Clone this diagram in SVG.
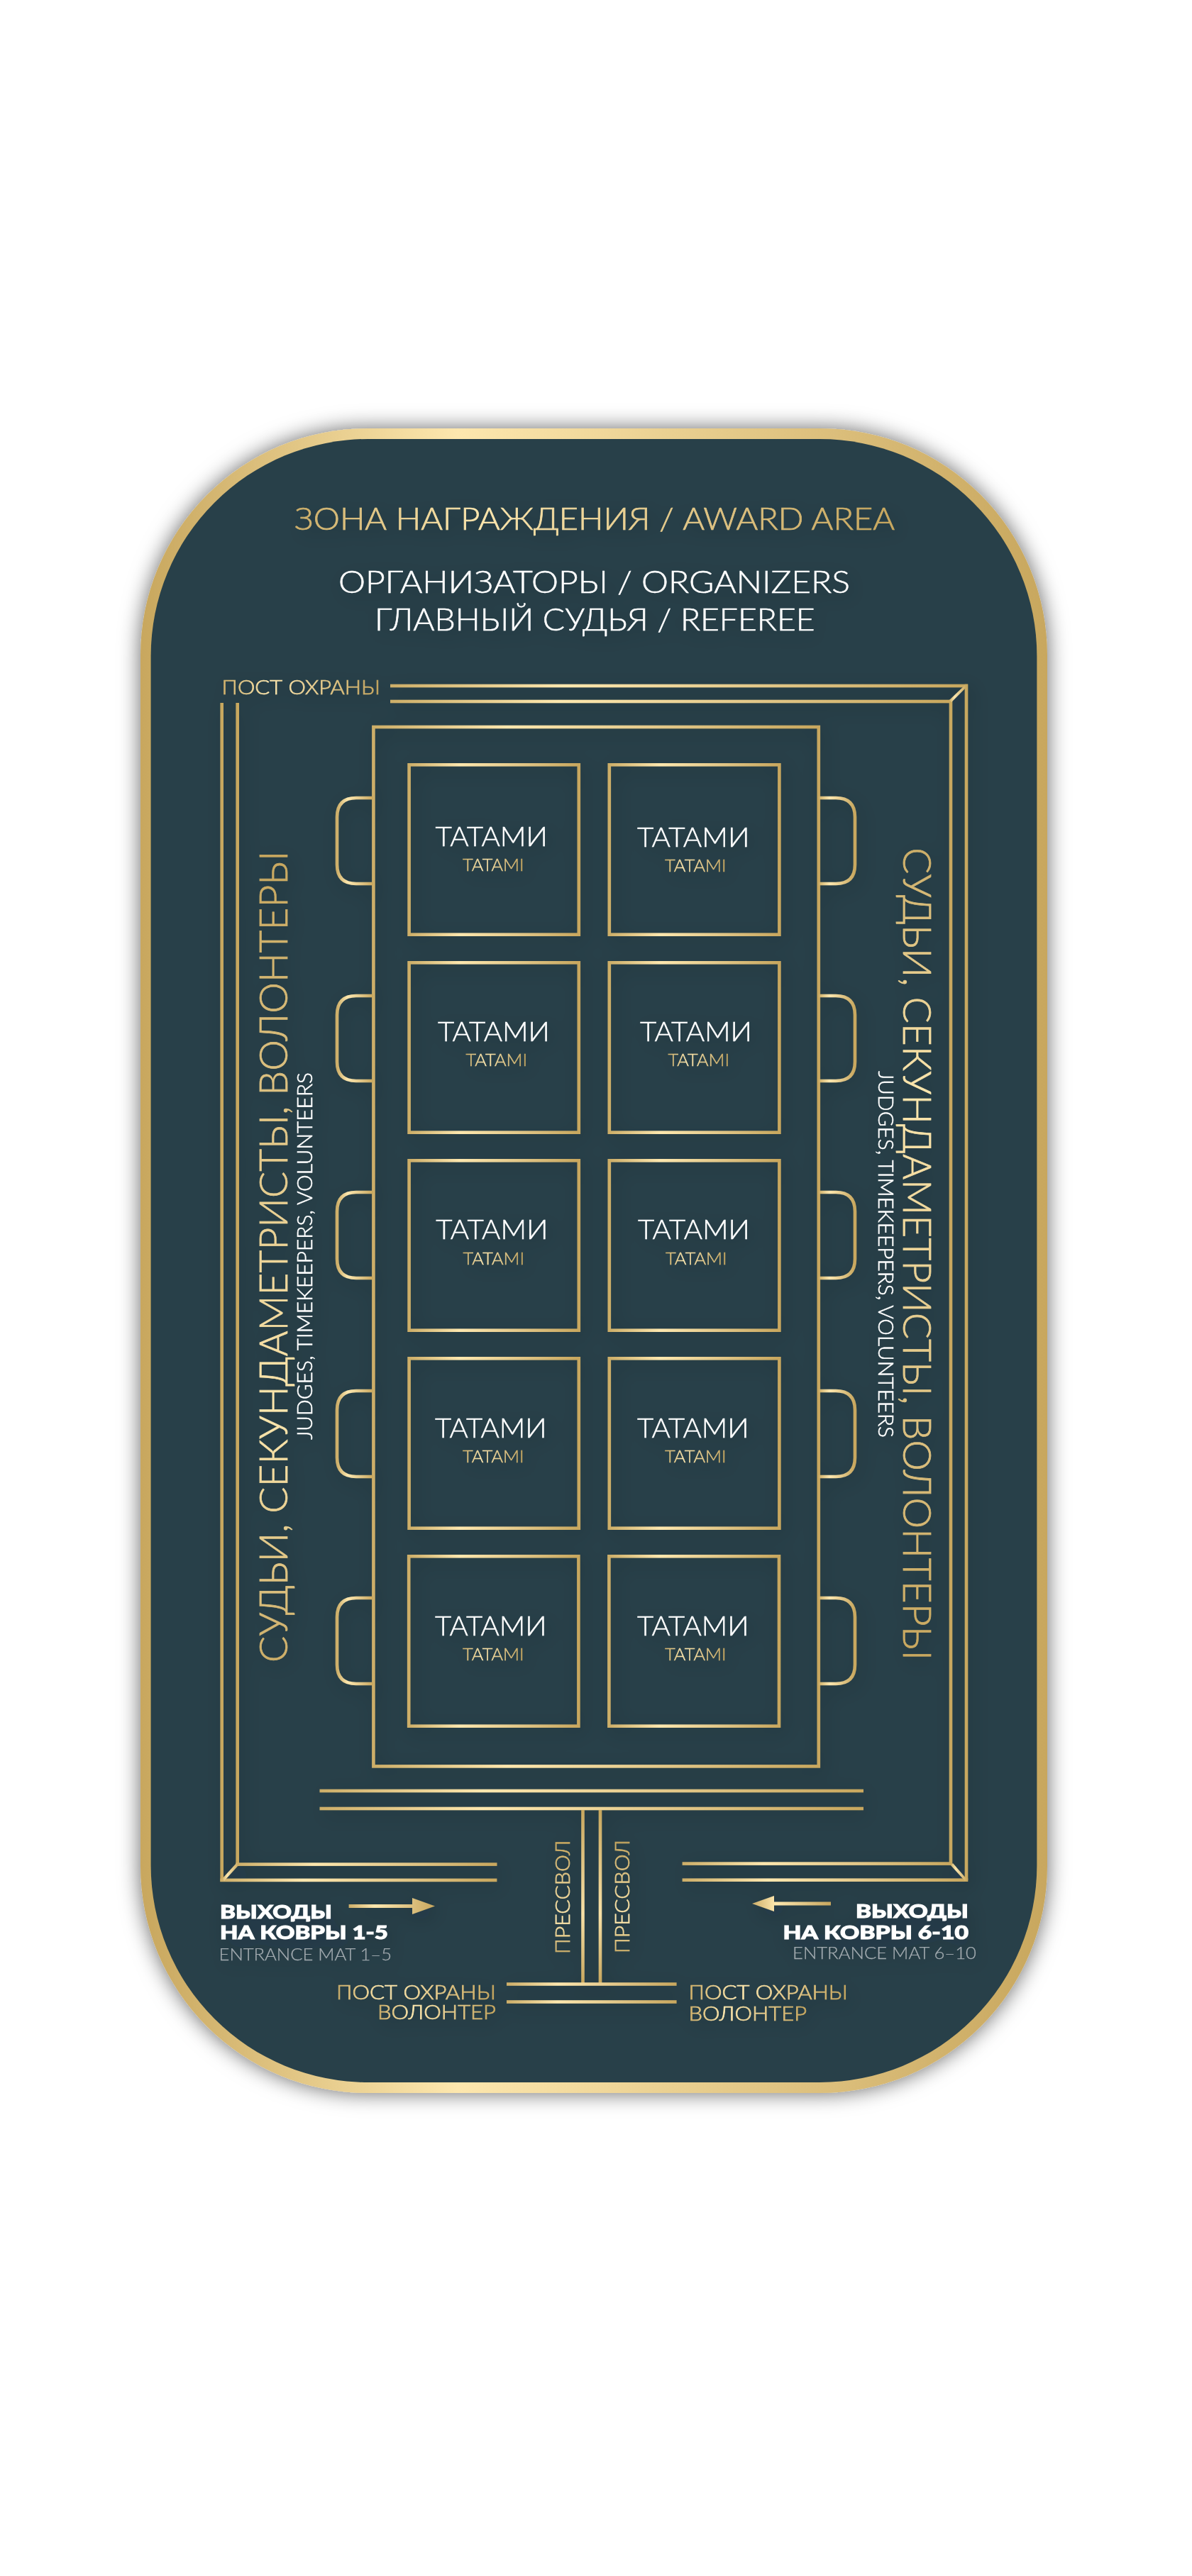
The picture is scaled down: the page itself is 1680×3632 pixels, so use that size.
<svg xmlns="http://www.w3.org/2000/svg" width="1680" height="3632" viewBox="0 0 1680 3632">
<style>
text{font-family:"Lato","Noto Sans","Liberation Sans",sans-serif;font-weight:300}
.w{fill:#fff;stroke:#fff;stroke-width:.5}
.au{fill:url(#g);stroke:url(#g);stroke-width:.7}
.gr{fill:#a3abb0;stroke:#a3abb0;stroke-width:.25}
.blk{fill:#fff;stroke:#fff;stroke-width:1;font-weight:900;font-size:27px}
.t1{font-size:37px;fill:#fff;stroke:#fff;stroke-width:.4}
.t2{font-size:23px;fill:url(#g);stroke:url(#g);stroke-width:.4}
.f{fill:none;stroke:url(#g);stroke-width:4.6}
.l{fill:url(#g)}
.v{fill:url(#gv)}
.s{fill:#c8a85f}
</style>
<defs>
<linearGradient id="g" x1="0" y1="0" x2="1" y2="0"><stop offset="0" stop-color="#cdae68"/><stop offset=".3" stop-color="#fde7ae"/><stop offset=".65" stop-color="#e2c788"/><stop offset="1" stop-color="#c8a75e"/></linearGradient>
<linearGradient id="gv" x1="0" y1="0" x2="0" y2="1"><stop offset="0" stop-color="#c8a75e"/><stop offset=".6" stop-color="#f7e0a6"/><stop offset="1" stop-color="#c8a75e"/></linearGradient>
<linearGradient id="gb" x1="0" y1="0" x2="1" y2="0"><stop offset="0" stop-color="#c8a75e"/><stop offset=".35" stop-color="#fde7ae"/><stop offset="1" stop-color="#c8a75e"/></linearGradient>
<filter id="ps" filterUnits="userSpaceOnUse" x="100" y="500" width="1480" height="2560"><feDropShadow dx="0" dy="0" stdDeviation="15" flood-color="#000" flood-opacity=".6"/></filter>
<filter id="cs" filterUnits="userSpaceOnUse" x="200" y="610" width="1270" height="2340"><feDropShadow dx="5" dy="7" stdDeviation="13" flood-color="#10242c" flood-opacity=".25"/></filter>
</defs>
<rect width="1680" height="3632" fill="#fff"/>
<g id="panel">
<rect x="198" y="604" width="1278" height="2347" rx="320" ry="320" fill="url(#gb)" filter="url(#ps)"/>
<rect x="212.6" y="619" width="1248.8" height="2317" rx="306" ry="306" fill="#284049"/>
</g>
<g filter="url(#cs)">
<g id="connectors">
<rect class="l" x="550" y="964.7" width="814" height="4.6"/>
<rect class="l" x="550" y="986.7" width="791" height="4.6"/>
<rect class="s" x="1359.7" y="964.7" width="4.6" height="1686"/>
<rect class="s" x="1337.7" y="986.7" width="4.6" height="1643"/>
<path class="l" d="M1341 990 L1338 987 L1360 966 L1362 969Z"/>
<rect class="s" x="310.4" y="991" width="4.6" height="1662"/>
<rect class="s" x="332.4" y="991" width="4.6" height="1640"/>
<rect class="l" x="310.4" y="2648.6" width="390" height="4.6"/>
<rect class="l" x="332.4" y="2626.3" width="368.1" height="4.6"/>
<path class="l" d="M334 2626 L337 2629 L316 2652 L313 2649Z"/>
<rect class="l" x="961.6" y="2625.3" width="380" height="4.6"/>
<rect class="l" x="961.6" y="2648.4" width="402.7" height="4.6"/>
<path class="l" d="M1340 2630 L1343 2627 L1363 2650 L1360 2652Z"/>
<rect class="l" x="450.5" y="2522.7" width="766.5" height="4.6"/>
<rect class="l" x="450.5" y="2547.7" width="766.5" height="4.6"/>
<rect class="v" x="819.2" y="2552" width="4.6" height="244"/>
<rect class="v" x="843.7" y="2552" width="4.6" height="244"/>
<rect class="l" x="714" y="2795.2" width="239.6" height="4.6"/>
<rect class="l" x="714" y="2820.2" width="239.6" height="4.6"/>
<path class="l" d="M491.6 2685 H581 V2676 L613 2687.5 L581 2699 V2690 H491.6Z"/>
<path class="l" d="M1171 2681.5 H1091 V2673 L1060 2684 L1091 2695 V2686.5 H1171Z"/>
</g>
<g id="field"><rect class="f" x="526.4" y="1025" width="627.4" height="1465.4"/></g>
<g id="seats">
<g class="f">
<path d="M526 1125 H502 Q475 1125 475 1152 V1219 Q475 1246 502 1246 H526"/>
<path d="M526 1404 H502 Q475 1404 475 1431 V1497 Q475 1524 502 1524 H526"/>
<path d="M526 1681 H502 Q475 1681 475 1708 V1775 Q475 1802 502 1802 H526"/>
<path d="M526 1961 H502 Q475 1961 475 1988 V2055 Q475 2082 502 2082 H526"/>
<path d="M526 2253 H502 Q475 2253 475 2280 V2347 Q475 2374 502 2374 H526"/>
<path d="M1154 1125 H1178 Q1205 1125 1205 1152 V1219 Q1205 1246 1178 1246 H1154"/>
<path d="M1154 1404 H1178 Q1205 1404 1205 1431 V1497 Q1205 1524 1178 1524 H1154"/>
<path d="M1154 1681 H1178 Q1205 1681 1205 1708 V1775 Q1205 1802 1178 1802 H1154"/>
<path d="M1154 1961 H1178 Q1205 1961 1205 1988 V2055 Q1205 2082 1178 2082 H1154"/>
<path d="M1154 2253 H1178 Q1205 2253 1205 2280 V2347 Q1205 2374 1178 2374 H1154"/>
</g>
</g>
<g id="tatami-1"><rect class="f" x="576.6" y="1078.3" width="239.2" height="239.4"/><text class="t1" x="613.6" y="1192.7" textLength="158.4" lengthAdjust="spacingAndGlyphs">ТАТАМИ</text><text class="t2" x="652" y="1227.7" textLength="86.6" lengthAdjust="spacingAndGlyphs">TATAMI</text></g>
<g id="tatami-2"><rect class="f" x="858.8" y="1078.3" width="239.6" height="239.4"/><text class="t1" x="898" y="1193.5" textLength="158.4" lengthAdjust="spacingAndGlyphs">ТАТАМИ</text><text class="t2" x="937" y="1228.5" textLength="86.6" lengthAdjust="spacingAndGlyphs">TATAMI</text></g>
<g id="tatami-3"><rect class="f" x="576.6" y="1357.3" width="239.2" height="239.4"/><text class="t1" x="617" y="1468.3" textLength="158" lengthAdjust="spacingAndGlyphs">ТАТАМИ</text><text class="t2" x="656.4" y="1503" textLength="86.6" lengthAdjust="spacingAndGlyphs">TATAMI</text></g>
<g id="tatami-4"><rect class="f" x="858.8" y="1357.3" width="239.6" height="239.4"/><text class="t1" x="902" y="1468.3" textLength="158" lengthAdjust="spacingAndGlyphs">ТАТАМИ</text><text class="t2" x="941.4" y="1503" textLength="86.6" lengthAdjust="spacingAndGlyphs">TATAMI</text></g>
<g id="tatami-5"><rect class="f" x="576.6" y="1636.3" width="239.2" height="239.4"/><text class="t1" x="614.3" y="1747.3" textLength="158.2" lengthAdjust="spacingAndGlyphs">ТАТАМИ</text><text class="t2" x="652.5" y="1782.7" textLength="86.6" lengthAdjust="spacingAndGlyphs">TATAMI</text></g>
<g id="tatami-6"><rect class="f" x="858.8" y="1636.3" width="239.6" height="239.4"/><text class="t1" x="899" y="1747.3" textLength="158" lengthAdjust="spacingAndGlyphs">ТАТАМИ</text><text class="t2" x="938" y="1782.7" textLength="86.6" lengthAdjust="spacingAndGlyphs">TATAMI</text></g>
<g id="tatami-7"><rect class="f" x="576.6" y="1915.3" width="239.2" height="239.4"/><text class="t1" x="613" y="2026.7" textLength="157.7" lengthAdjust="spacingAndGlyphs">ТАТАМИ</text><text class="t2" x="652" y="2062" textLength="86.6" lengthAdjust="spacingAndGlyphs">TATAMI</text></g>
<g id="tatami-8"><rect class="f" x="858.8" y="1915.3" width="239.6" height="239.4"/><text class="t1" x="898" y="2026.7" textLength="157.7" lengthAdjust="spacingAndGlyphs">ТАТАМИ</text><text class="t2" x="937" y="2062" textLength="86.6" lengthAdjust="spacingAndGlyphs">TATAMI</text></g>
<g id="tatami-9"><rect class="f" x="576.2" y="2194.3" width="239.2" height="239.4"/><text class="t1" x="613" y="2305.7" textLength="157.7" lengthAdjust="spacingAndGlyphs">ТАТАМИ</text><text class="t2" x="652" y="2341" textLength="86.6" lengthAdjust="spacingAndGlyphs">TATAMI</text></g>
<g id="tatami-10"><rect class="f" x="858.4" y="2194.3" width="239.6" height="239.4"/><text class="t1" x="898" y="2305.7" textLength="157.7" lengthAdjust="spacingAndGlyphs">ТАТАМИ</text><text class="t2" x="937" y="2341" textLength="86.6" lengthAdjust="spacingAndGlyphs">TATAMI</text></g>
<g id="award"><text class="au" font-size="43" x="415" y="746.7" textLength="846" lengthAdjust="spacingAndGlyphs">ЗОНА НАГРАЖДЕНИЯ / AWARD AREA</text></g>
<g id="organizers"><text class="w" font-size="43" x="477" y="836" textLength="721" lengthAdjust="spacingAndGlyphs">ОРГАНИЗАТОРЫ / ORGANIZERS</text></g>
<g id="referee"><text class="w" font-size="43" x="528" y="889" textLength="620.6" lengthAdjust="spacingAndGlyphs">ГЛАВНЫЙ СУДЬЯ / REFEREE</text></g>
<g id="guard-top"><text class="au" font-size="27" x="312.6" y="979" textLength="223.4" lengthAdjust="spacingAndGlyphs">ПОСТ ОХРАНЫ</text></g>
<g id="staff-left">
<text class="au" font-size="55" transform="translate(405 2344) rotate(-90)" textLength="1144.5" lengthAdjust="spacingAndGlyphs">СУДЬИ, СЕКУНДАМЕТРИСТЫ, ВОЛОНТЕРЫ</text>
<text class="w" font-size="29" transform="translate(440 2030) rotate(-90)" textLength="518" lengthAdjust="spacingAndGlyphs">JUDGES, TIMEKEEPERS, VOLUNTEERS</text>
</g>
<g id="staff-right">
<text class="au" font-size="55" transform="translate(1272.7 1195) rotate(90)" textLength="1146" lengthAdjust="spacingAndGlyphs">СУДЬИ, СЕКУНДАМЕТРИСТЫ, ВОЛОНТЕРЫ</text>
<text class="w" font-size="29" transform="translate(1238 1510) rotate(90)" textLength="517" lengthAdjust="spacingAndGlyphs">JUDGES, TIMEKEEPERS, VOLUNTEERS</text>
</g>
<g id="exit-left">
<text class="blk" x="310" y="2704.6" textLength="158" lengthAdjust="spacingAndGlyphs">ВЫХОДЫ</text>
<text class="blk" x="310" y="2734" textLength="237" lengthAdjust="spacingAndGlyphs">НА КОВРЫ 1-5</text>
<text class="gr" font-size="23" x="308.6" y="2763.6" textLength="243.4" lengthAdjust="spacingAndGlyphs">ENTRANCE MAT 1–5</text>
</g>
<g id="exit-right">
<text class="blk" x="1206" y="2704" textLength="159" lengthAdjust="spacingAndGlyphs">ВЫХОДЫ</text>
<text class="blk" x="1103.6" y="2733.6" textLength="261.4" lengthAdjust="spacingAndGlyphs">НА КОВРЫ 6-10</text>
<text class="gr" font-size="23" x="1117" y="2762" textLength="259" lengthAdjust="spacingAndGlyphs">ENTRANCE MAT 6–10</text>
</g>
<g id="press-left"><text class="au" font-size="28" transform="translate(803 2755) rotate(-90)" textLength="160.4" lengthAdjust="spacingAndGlyphs">ПРЕССВОЛ</text></g>
<g id="press-right"><text class="au" font-size="28" transform="translate(887 2754) rotate(-90)" textLength="160" lengthAdjust="spacingAndGlyphs">ПРЕССВОЛ</text></g>
<g id="guard-left">
<text class="au" font-size="27" x="474" y="2818.6" textLength="225" lengthAdjust="spacingAndGlyphs">ПОСТ ОХРАНЫ</text>
<text class="au" font-size="27" x="532" y="2847" textLength="167" lengthAdjust="spacingAndGlyphs">ВОЛОНТЕР</text>
</g>
<g id="guard-right">
<text class="au" font-size="27" x="970.5" y="2819" textLength="224.5" lengthAdjust="spacingAndGlyphs">ПОСТ ОХРАНЫ</text>
<text class="au" font-size="27" x="970.5" y="2848.6" textLength="166.5" lengthAdjust="spacingAndGlyphs">ВОЛОНТЕР</text>
</g>
</g>
</svg>
